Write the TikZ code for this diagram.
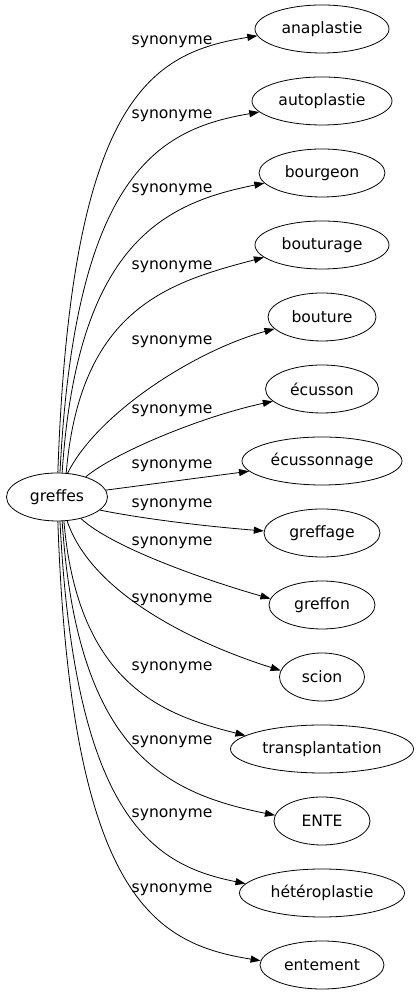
\documentclass[tikz,border=0pt]{standalone}
\usepackage{fontspec}
\setmainfont{DejaVu Sans}
\usetikzlibrary{shapes.geometric,arrows.meta}

\begin{document}
\begin{tikzpicture}[x=1pt,y=1pt,line width=0.8pt,
  word/.style={draw,ellipse,inner sep=0pt,minimum height=48pt,font=\fontsize{15.6pt}{18pt}\selectfont},
  syn/.style={inner sep=0pt,font=\fontsize{15.6pt}{18pt}\selectfont},
  link/.style={-{Triangle[length=10pt,width=7pt]}}]
  \useasboundingbox (0,0) rectangle (419,995);

  % centre
  \node[word,minimum width=101pt] (greffes) at (57,498) {greffes};

  % words
  \node[word,minimum width=134pt] (anaplastie) at (322,966) {anaplastie};
  \node[word,minimum width=140pt] (autoplastie) at (322,894) {autoplastie};
  \node[word,minimum width=126pt] (bourgeon) at (322,822) {bourgeon};
  \node[word,minimum width=134pt] (bouturage) at (322,750) {bouturage};
  \node[word,minimum width=108pt] (bouture) at (322,678) {bouture};
  \node[word,minimum width=113pt] (ecusson) at (322,606) {écusson};
  \node[word,minimum width=160pt] (ecussonnage) at (322,534) {écussonnage};
  \node[word,minimum width=116pt] (greffage) at (322,462) {greffage};
  \node[word,minimum width=106pt] (greffon) at (322,390) {greffon};
  \node[word,minimum width=85pt] (scion) at (322,318) {scion};
  \node[word,minimum width=183pt] (transplantation) at (322,246) {transplantation};
  \node[word,minimum width=96pt] (ente) at (322,174) {ENTE};
  \node[word,minimum width=165pt] (heteroplastie) at (322,102) {hétéroplastie};
  \node[word,minimum width=124pt] (entement) at (322,30) {entement};

  %labels
  \node[syn,at={(172,953)}] (s1) {synonyme};
  \node[syn,at={(172,879)}] (s2) {synonyme};
  \node[syn,at={(172,805)}] (s3) {synonyme};
  \node[syn,at={(172,728)}] (s4) {synonyme};
  \node[syn,at={(172,653)}] (s5) {synonyme};
  \node[syn,at={(172,584)}] (s6) {synonyme};
  \node[syn,at={(172,529)}] (s7) {synonyme};
  \node[syn,at={(172,490)}] (s8) {synonyme};
  \node[syn,at={(172,452)}] (s9) {synonyme};
  \node[syn,at={(172,395)}] (s10) {synonyme};
  \node[syn,at={(172,327)}] (s11) {synonyme};
  \node[syn,at={(172,253)}] (s12) {synonyme};
  \node[syn,at={(172,180)}] (s13) {synonyme};
  \node[syn,at={(172,105)}] (s14) {synonyme};

  %edges up
  \draw[link] (greffes.88) .. controls +(13,378) and +(-105,-17) .. (anaplastie.186);
  \draw[link] (greffes.83) .. controls +(15,300) and +(-100,-17) .. (autoplastie.190);
  \draw[link] (greffes.78) .. controls +(15,230) and +(-100,-20) .. (bourgeon.190);
  \draw[link] (greffes.69) .. controls +(14,165) and +(-95,-25) .. (bouturage.192);
  \draw[link] (greffes.66) .. controls +(30,60) and +(-80,-22) .. (bouture.194);
  \draw[link] (greffes.35) .. controls +(30,25) and +(-70,-15) .. (ecusson.194);
  %edges across
  \draw[link] (greffes.8) -- (ecussonnage.188);
  \draw[link] (greffes.-17) .. controls +(50,-10) and +(-50,4) .. (greffage.178);
  %edges down
  \draw[link] (greffes.-42) .. controls +(30,-28) and +(-70,20) .. (greffon.173);
  \draw[link] (greffes.-67) .. controls +(25,-75) and +(-80,25) .. (scion.171);
  \draw[link] (greffes.-74) .. controls +(14,-165) and +(-80,20) .. (transplantation.170);
  \draw[link] (greffes.-78) .. controls +(15,-230) and +(-110,22) .. (ente.173);
  \draw[link] (greffes.-83) .. controls +(15,-300) and +(-90,18) .. (heteroplastie.173);
  \draw[link] (greffes.-88) .. controls +(13,-378) and +(-105,17) .. (entement.176);
\end{tikzpicture}
\end{document}
